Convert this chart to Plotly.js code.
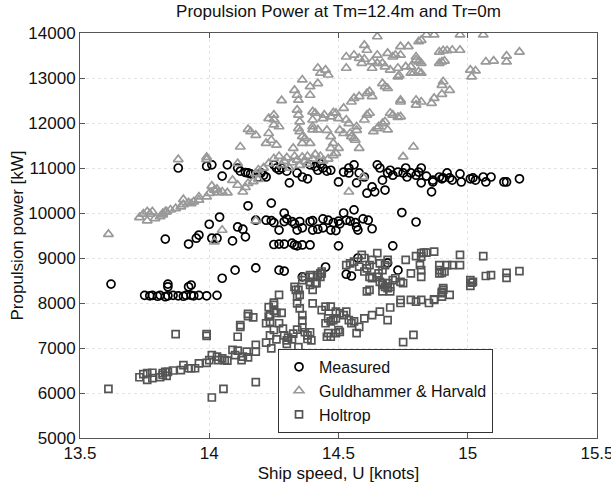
<!DOCTYPE html>
<html><head><meta charset="utf-8">
<script src="https://cdn.plot.ly/plotly-3.0.1.min.js"></script>
<style>html,body{margin:0;padding:0;background:#fff}#chart{width:611px;height:484px}</style>
</head><body><div id="chart"></div>
<script>
const titleText = "Propulsion Power at Tm=12.4m and Tr=0m";
const xTitle = "Ship speed, U [knots]";
const yTitle = "Propulsion power [kW]";
const seriesNames = ["Measured", "Guldhammer & Harvald", "Holtrop"];

const measured = [
[13.62,8420],[13.75,8170],[13.77,8160],[13.78,8170],[13.80,8150],[13.81,8170],[13.83,8140],[13.84,8160],[13.86,8170],[13.88,8160],[13.90,8150],[13.91,8170],[13.93,8170],[13.94,8160],[13.96,8170],[13.99,8160],[14.03,8170],[13.84,8420],[13.84,8360],[13.92,8360],[13.93,8400],[14.05,8550],[14.10,8730],[14.18,8780],[14.27,8730],[14.29,8710],[14.36,8580],[14.45,8800],[14.53,8640],[14.55,8600],[14.575,9000],[14.69,8890],[14.73,8730],
[13.83,9420],[13.92,9310],[13.95,9440],[13.96,9510],[14.00,9750],[14.01,9440],[14.03,9440],[14.04,9910],[14.09,9380],[14.11,9690],[14.13,9640],[14.14,9470],[14.15,10160],[14.18,9840],[14.22,9840],[14.24,10220],[14.24,9830],[14.25,9785],[14.27,9620],[14.29,10000],[14.29,9810],[14.30,9870],[14.32,9810],[14.33,9760],[14.34,9620],[14.35,9810],[14.36,9670],[14.39,9810],[14.40,9830],[14.40,9620],[14.42,9640],[14.44,9670],[14.44,9870],[14.46,9840],[14.47,9620],[14.48,9785],[14.49,9610],[14.50,9820],[14.505,9760],[14.52,10000],[14.53,9840],[14.545,9820],[14.56,10070],[14.565,9785],[14.57,9690],[14.575,9620],[14.595,9870],[14.615,9840],[14.63,9650],[14.745,10010],[14.80,9800],
[14.25,9300],[14.27,9310],[14.29,9310],[14.32,9330],[14.33,9290],[14.34,9270],[14.36,9290],[14.39,9290],[14.50,9270],[14.71,9270],
[13.88,11000],[13.99,11040],[14.01,11070],[14.07,11070],[14.05,10820],[14.11,11000],[14.12,10930],[14.14,10900],[14.15,10890],[14.16,10870],[14.19,10800],[14.20,10890],[14.21,10840],[14.22,10800],[14.25,11070],[14.26,11000],[14.27,10960],[14.28,11000],[14.30,10930],[14.31,10670],[14.34,10890],[14.36,10800],[14.38,10760],[14.39,11070],[14.41,11030],[14.43,11090],[14.42,10950],[14.44,11000],[14.455,10930],[14.47,10950],[14.50,10690],[14.52,10910],[14.54,11000],[14.54,10890],[14.56,11070],[14.57,10670],[14.58,10890],[14.60,10800],[14.61,10440],[14.63,10580],[14.64,10470],[14.65,11070],[14.66,11000],[14.67,10730],[14.68,10510],[14.69,10890],[14.70,10950],[14.71,10840],[14.73,10910],[14.75,10890],[14.76,11000],[14.765,10800],[14.78,10890],[14.80,10840],[14.81,10910],[14.82,11000],[14.82,10670],[14.84,10820],[14.86,10470],[14.865,10730],[14.865,10690],[14.89,10800],[14.90,10760],[14.905,10780],[14.92,10890],[14.93,10780],[14.94,10730],[14.97,10870],[14.975,10690],[15.01,10760],[15.02,10780],[15.03,10730],[15.06,10800],[15.07,10690],[15.09,10800],[15.14,10690],[15.15,10690],[15.20,10760]
];

const guldhammer = [
[13.61,9530],[13.73,9900],[13.745,9980],[13.76,9830],[13.76,10030],[13.77,9980],[13.78,10030],[13.79,9880],[13.81,9920],[13.82,9990],[13.82,9960],[13.83,10030],[13.835,10030],[13.85,10070],[13.87,10100],[13.89,10140],[13.90,10300],[13.90,10190],[13.92,10230],[13.93,10210],[13.94,10250],[13.96,10290],[13.96,10360],[13.99,10360],[14.00,10440],[14.01,10600],[14.02,10510],[14.03,10530],[14.035,10450],[14.05,10470],[14.07,10450],[14.09,10730],[14.11,10620],[14.13,10470],[14.14,10570],[14.15,10660],[14.17,10700],[14.18,10880],[14.19,10750],
[13.88,11190],[13.99,11240],[13.99,11190],[14.11,11100],[14.05,9620],[14.02,9360],[14.18,9830],
[14.12,11470],[14.15,11860],[14.16,11810],[14.18,11730],[14.22,11550],[14.23,11770],[14.24,11620],[14.23,12100],[14.25,12180],[14.25,12080],[14.27,11920],[14.25,11960],[14.26,11510],[14.28,12500],
[14.325,11440],[14.33,12730],[14.34,12620],[14.345,12510],[14.34,12290],[14.345,12180],[14.35,12030],[14.345,11880],[14.35,11810],[14.36,11700],[14.36,11550],[14.37,11660],[14.39,11550],[14.36,12960],[14.39,12810],[14.39,12620],[14.40,12070],[14.40,11920],[14.40,11850],[14.42,11850],[14.40,12250],[14.41,12220],[14.42,12880],
[14.42,13220],[14.43,13110],[14.45,13180],[14.46,13070],
[14.44,12100],[14.445,12180],[14.47,12140],[14.48,12230],[14.49,12220],[14.50,12100],[14.455,11840],[14.47,11700],[14.48,11550],[14.47,11440],[14.49,11330],[14.50,11440],
[14.52,12330],[14.53,12070],[14.54,11990],[14.505,11840],[14.52,11770],[14.545,11770],[14.55,11700],[14.56,11660],[14.57,11840],[14.565,11620],[14.58,11440],[14.57,11920],
[14.53,13470],[14.56,13510],[14.58,13440],[14.59,13330],[14.60,13420],[14.60,13730],[14.61,13620],[14.65,13920],[14.65,13510],[14.63,13360],[14.63,13220],[14.65,13330],[14.67,13330],[14.68,13250],[14.69,13550],[14.70,13180],[14.71,13470],[14.72,13510],[14.73,13030],[14.735,13060],[14.53,13220],
[14.55,12470],[14.56,12550],[14.58,12590],[14.61,12660],[14.62,12700],[14.63,12590],[14.67,12880],[14.68,12810],[14.69,12770],
[14.60,12070],[14.61,12180],[14.62,12220],[14.635,11810],[14.65,11880],[14.655,11920],[14.67,11990],[14.68,12030],[14.69,11850],[14.70,12220],[14.71,12180],[14.73,12130],[14.74,12470],[14.79,11470],[14.75,11250],[14.80,12510],[14.82,12470],[14.80,12400],
[14.74,13700],[14.77,13700],[14.78,13250],[14.80,13400],[14.81,13810],[14.82,13330],[14.82,13110],[14.78,13110],[14.80,13470],[14.84,13960],[14.76,13250],[14.73,13220],
[14.74,13510],[14.74,12510],[14.74,12140],[14.79,13110],[14.81,13140],[14.81,13360],[14.82,13840],[14.87,13960],[14.89,13580],[14.905,13610],[14.92,13610],[14.94,13620],[14.97,13620],[14.89,13330],[14.90,13360],[14.91,13380],[14.90,12840],[14.905,12920],[14.93,12730],[14.90,12640],[14.87,12550],[14.86,12440],[15.01,13180],[15.015,13030],[15.03,13160],[15.07,13360],[15.10,13380],[15.15,13490],[15.15,13360],[15.20,13580],[14.97,13960],[15.06,13960],
[14.54,10470],[14.19,10960],[14.21,11000],[14.23,11100],[14.25,11210],[14.27,11260],[14.28,11070],[14.29,11150],[14.30,11230],[14.31,11000],[14.32,11120],[14.33,11260],[14.34,11180],[14.35,11060],[14.36,11240],[14.37,11150],[14.38,11260],[14.38,11090],[14.40,11200],[14.41,11300],[14.43,11260],[14.44,11160],[14.46,11200],[14.48,11280],[14.595,10800]
];

const holtrop = [
[13.61,6090],[13.73,6350],[13.745,6420],[13.76,6290],[13.76,6440],[13.78,6450],[13.78,6330],[13.81,6350],[13.82,6400],[13.82,6440],[13.83,6470],[13.835,6380],[13.84,6470],[13.86,6500],[13.89,6510],[13.90,6620],[13.92,6550],[13.93,6550],[13.945,6550],[13.96,6660],[13.99,6670],[14.00,6730],[14.01,6840],[14.03,6810],[14.035,6730],[14.05,6770],[14.06,6730],[14.07,6720],[14.09,6960],[14.10,6840],[14.11,6940],[14.125,6730],[14.13,6810],[14.145,6920],[14.15,6790],[14.18,6920],[14.18,7070],[14.22,7120],[14.24,6990],
[13.87,7310],[13.99,7310],[13.99,7270],[14.01,5900],[14.055,6090],[14.18,6240],
[14.11,7250],[14.12,7510],[14.12,7470],[14.15,7760],[14.15,7710],[14.17,7680],[14.22,7550],[14.23,7700],[14.235,7580],[14.25,7960],[14.23,7910],[14.25,7830],[14.26,7780],[14.27,7550],[14.27,8180],
[14.25,8010],[14.235,7730],[14.28,7780],[14.285,7430],[14.29,7280],[14.30,7170],[14.30,7090],[14.305,7230],[14.32,7190],[14.325,7320],[14.33,8360],[14.335,8290],[14.34,8140],[14.34,7990],[14.35,7880],[14.36,7730],[14.36,7610],[14.36,7460],[14.37,7350],[14.38,7280],[14.38,7200],[14.39,7350],[14.395,7170],[14.34,7410],[14.345,7020],[14.26,7190],[14.25,7400],[14.235,7280],
[14.39,8620],[14.40,8580],[14.42,8620],[14.43,8660],[14.435,8700],[14.39,8470],[14.41,8440],
[14.40,7990],[14.435,7840],[14.45,7920],[14.47,7920],[14.49,7810],[14.46,7660],[14.45,7550],[14.47,7590],[14.48,7620],[14.49,7660],[14.505,7770],[14.52,7730],[14.53,7810],[14.54,7620],[14.55,7550],[14.56,7590],[14.58,7470],[14.57,7330],[14.46,7330],[14.455,7250],[14.47,7250],[14.49,7330],[14.505,7360],
[14.53,8840],[14.545,8880],[14.56,8920],[14.58,8810],[14.60,8700],[14.61,8770],[14.59,9070],[14.60,9000],[14.62,8840],[14.63,8960],[14.65,9110],[14.66,8880],[14.67,8730],[14.68,8840],[14.69,8960],[14.62,8580],[14.63,8550],[14.65,8580],[14.655,8660],[14.66,8470],[14.67,8400],[14.69,8440],[14.70,8360],[14.71,8510],[14.72,8550],[14.74,8470],[14.75,8440],[14.76,8960],[14.78,8660],[14.80,9040],[14.82,9110],[14.83,9120],[14.89,8840],[14.92,8840],[14.94,8840],[14.97,9070],[14.89,8730],[14.89,8660],[14.905,8290],[14.93,8180],[14.90,8220],[14.80,8030],[14.82,8070],[14.85,8000],[14.87,8070],[14.74,8070],[14.61,8260],[14.62,8290],[14.67,8440],[14.68,8360],[14.69,8330],[14.70,8260],[14.67,8260],
[14.82,9030],[14.84,9120],[14.87,9140],[14.815,8840],[14.82,8730],[14.82,8580],[14.90,8670],[14.91,8700],[14.97,8840],[15.06,9040],[15.01,8510],[15.015,8450],[15.01,8380],[15.02,8470],[15.07,8600],[15.09,8620],[15.15,8670],[15.15,8560],[15.20,8710],[14.905,8330],[14.90,8250],[14.90,8140],[14.87,8080],
[14.75,7130],[14.79,7290],[14.69,7620],
[14.345,8290],[14.35,8180],[14.36,8510],[14.37,8580],[14.39,8400],[14.40,8290],[14.415,8440],[14.43,8580],[14.435,8660],
[14.50,7400],[14.60,7660],[14.63,7730],[14.66,7810],[14.70,7900],[14.74,8000],[14.78,8070]
];

const xTicks = [13.5, 14, 14.5, 15, 15.5];
const xTickLabels = ["13.5", "14", "14.5", "15", "15.5"];
const yTicks = [5000, 6000, 7000, 8000, 9000, 10000, 11000, 12000, 13000, 14000];
const yTickLabels = ["5000", "6000", "7000", "8000", "9000", "10000", "11000", "12000", "13000", "14000"];

const FONT = "Liberation Sans, Arial, sans-serif";

function trace(data, name, symbol, color, size) {
  return {
    type: "scatter", mode: "markers", name: name,
    x: data.map(p => p[0]), y: data.map(p => p[1]),
    marker: {symbol: symbol, size: size, color: color, line: {color: color, width: 1.7}},
    cliponaxis: true
  };
}

const traces = [
  trace(measured, seriesNames[0], "circle-open", "#000000", 8),
  trace(guldhammer, seriesNames[1], "triangle-up-open", "#999999", 8.5),
  trace(holtrop, seriesNames[2], "square-open", "#555555", 7)
];

const axisCommon = {
  showline: true, linecolor: "#555", linewidth: 1, mirror: "ticks",
  ticks: "inside", ticklen: 5, tickcolor: "#555", tickwidth: 1,
  showgrid: true, gridcolor: "#e4e4e4", griddash: "dot", gridwidth: 1,
  zeroline: false, ticklabeloverflow: "allow",
  tickfont: {family: FONT, size: 17, color: "#111"}
};

const layout = {
  width: 611, height: 484,
  paper_bgcolor: "#fff", plot_bgcolor: "#fff",
  margin: {l: 80, r: 14, t: 33, b: 46},
  font: {family: FONT, size: 17, color: "#111"},
  title: {text: titleText, font: {family: FONT, size: 17, color: "#111"}, x: 0.554, xref: "container", y: 0.99, yref: "container", yanchor: "top"},
  xaxis: Object.assign({}, axisCommon, {
    range: [13.5, 15.5], tickvals: xTicks, ticktext: xTickLabels,
    title: {text: xTitle, font: {family: FONT, size: 17, color: "#111"}, standoff: 4}
  }),
  yaxis: Object.assign({}, axisCommon, {
    range: [5000, 14000], tickvals: yTicks, ticktext: yTickLabels,
    title: {text: yTitle, font: {family: FONT, size: 17, color: "#111"}, standoff: 0}
  }),
  showlegend: true,
  legend: {
    x: 0.383, y: 0.22, xanchor: "left", yanchor: "top",
    bgcolor: "#fff", bordercolor: "#333", borderwidth: 1,
    font: {family: FONT, size: 16, color: "#111"},
    itemwidth: 30, tracegroupgap: 0
  }
};

Plotly.newPlot("chart", traces, layout, {displayModeBar: false, staticPlot: true});
</script>
</body></html>
